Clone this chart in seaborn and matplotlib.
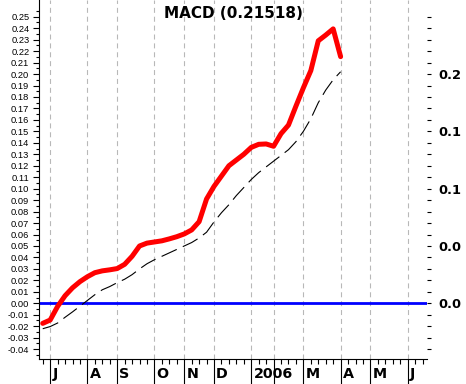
import numpy as np
import pandas as pd
import seaborn as sns
import matplotlib.pyplot as plt
import matplotlib.transforms as mtransforms
from matplotlib.ticker import FixedLocator, FixedFormatter, FormatStrFormatter

# weekly index, Jun 2005 .. early Apr 2006
week = list(range(41))
macd = [-0.0175, -0.0146, -0.0027, 0.0066, 0.0135, 0.0189, 0.0232, 0.0267, 0.0283, 0.0292,
        0.0303, 0.0340, 0.0410, 0.0500, 0.0525, 0.0535, 0.0545, 0.0562, 0.0581, 0.0605,
        0.0640, 0.0712, 0.0910, 0.1020, 0.1110, 0.1200, 0.1250, 0.1300, 0.1360, 0.1387,
        0.1390, 0.1370, 0.1480, 0.1555, 0.1720, 0.1880, 0.2030, 0.2290, 0.2340, 0.2394,
        0.21518]
signal = [-0.0222, -0.0203, -0.0172, -0.0122, -0.0075, -0.0025, 0.0025, 0.0075, 0.0118, 0.0146,
          0.0180, 0.0210, 0.0250, 0.0300, 0.0345, 0.0380, 0.0410, 0.0440, 0.0470, 0.0500,
          0.0530, 0.0570, 0.0620, 0.0710, 0.0790, 0.0860, 0.0940, 0.1010, 0.1080, 0.1140,
          0.1190, 0.1240, 0.1290, 0.1340, 0.1410, 0.1500, 0.1610, 0.1750, 0.1860, 0.1950,
          0.2020]
month_pos = [1, 6, 10, 15, 19, 23, 28, 31, 35, 40, 44, 49]
month_lbl = ["J", "A", "S", "O", "N", "D", "2006", "", "M", "A", "M", "J"]
left_ticks = [round(-0.04 + 0.01 * k, 2) for k in range(30)]
left_minor = [round(-0.045 + 0.01 * k, 3) for k in range(32)]
right_ticks = [0.0, 0.05, 0.10, 0.15, 0.20]
right_lbl = ["0.0", "0.0", "0.1", "0.1", "0.2"]
right_minor = left_ticks

df = pd.DataFrame({"week": week, "macd": macd, "signal": signal})

sns.set_style("white")
plt.rcParams["text.color"] = "black"
fig = plt.figure(figsize=(4.66, 3.84), dpi=100)
ax = fig.add_axes([39 / 466, 25 / 384, 388 / 466, 359 / 384])

ax.axhline(0, color="#0000ff", lw=2.0, zorder=2)
sns.lineplot(data=df, x="week", y="signal", ax=ax, color="black", lw=0.8,
             dashes=False, zorder=3)
ax.lines[-1].set_dashes([15, 6])
sns.lineplot(data=df, x="week", y="macd", ax=ax, color="#ff0000", lw=3.6, zorder=4)
ax.lines[-1].set_solid_joinstyle("round")

ax.set_xlim(-0.5, 51.6)
ax.set_ylim(-0.0486, 0.2646)
ax.set_xlabel("")
ax.set_ylabel("")

for s in ["top", "right"]:
    ax.spines[s].set_visible(False)
for s in ["left", "bottom"]:
    ax.spines[s].set_color("black")
    ax.spines[s].set_linewidth(0.8)

# left axis
ax.yaxis.set_major_locator(FixedLocator(left_ticks))
ax.yaxis.set_minor_locator(FixedLocator(left_minor))
ax.yaxis.set_major_formatter(FormatStrFormatter("%.2f"))
ax.tick_params(axis="y", which="major", direction="out", length=4.5, width=0.8,
               color="black", labelcolor="black", pad=2.5, labelsize=6.7, left=True)
ax.tick_params(axis="y", which="minor", direction="out", length=2.2, width=0.8,
               color="black", left=True)
for t in ax.get_yticklabels():
    t.set_fontfamily("Liberation Sans")

# bottom axis
ax.xaxis.set_major_locator(FixedLocator(month_pos))
ax.xaxis.set_minor_locator(FixedLocator(list(range(52))))
ax.tick_params(axis="x", which="major", direction="out", length=19, width=0.8,
               color="black", labelbottom=False, bottom=True)
ax.tick_params(axis="x", which="minor", direction="out", length=3.6, width=0.8,
               color="black", bottom=True)
ax.grid(axis="x", which="major", color="#b8b8b8", lw=0.8, linestyle=(0, (4.5, 3.5)))
ax.grid(axis="y", visible=False)
ax.set_axisbelow(True)

trans = mtransforms.blended_transform_factory(ax.transData, ax.transAxes)
for p, lbl in zip(month_pos, month_lbl):
    ax.text(p + 0.3, -0.043, lbl, transform=trans, ha="left", va="center", color="black",
            fontsize=10.3, fontweight="bold", family="DejaVu Sans", clip_on=False)

# right axis
ax2 = ax.twinx()
ax2.set_ylim(ax.get_ylim())
for s in ax2.spines.values():
    s.set_visible(False)
ax2.yaxis.set_major_locator(FixedLocator(right_ticks))
ax2.yaxis.set_major_formatter(FixedFormatter(right_lbl))
ax2.yaxis.set_minor_locator(FixedLocator(right_minor))
ax2.tick_params(axis="y", which="both", direction="out", length=3.2, width=0.8,
                color="black", right=True, pad=5)
ax2.tick_params(axis="y", which="major", labelsize=9.4, labelcolor="black")
for t in ax2.get_yticklabels():
    t.set_fontweight("bold")
    t.set_fontfamily("DejaVu Sans")
ax2.grid(False)

fig.text(233 / 466, 1 - 13 / 384, "MACD (0.21518)", ha="center", va="center",
         color="black", fontsize=11, fontweight="bold", family="DejaVu Sans")

fig.savefig("out.png", dpi=100)
